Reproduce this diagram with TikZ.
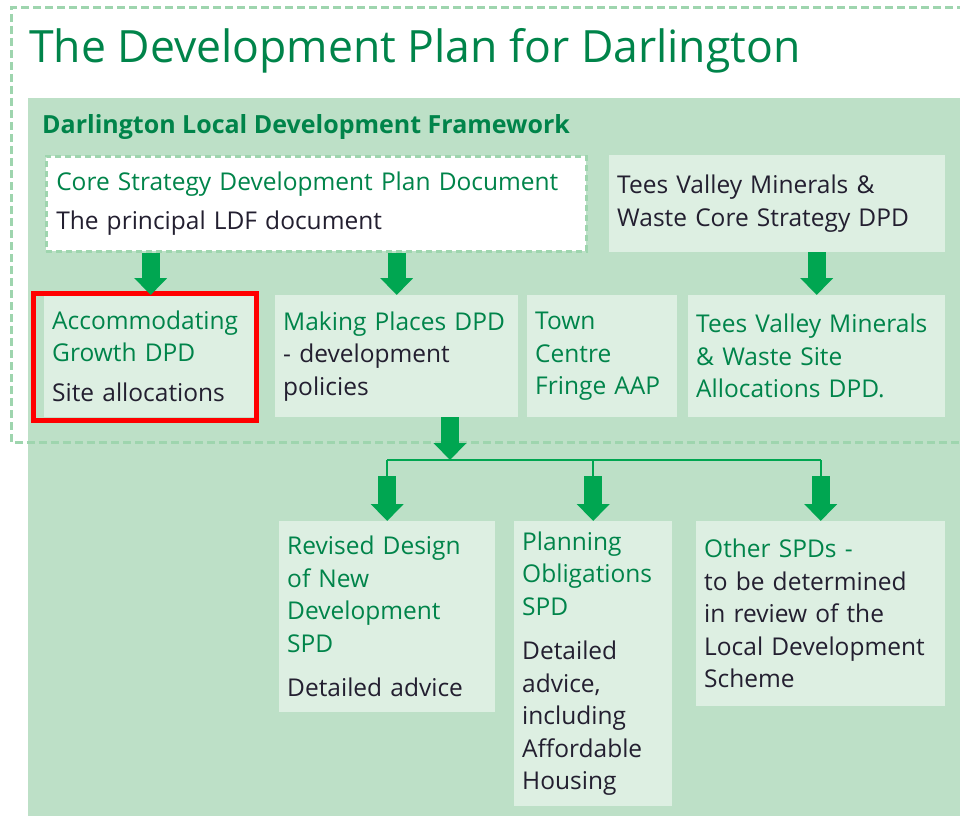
\documentclass[tikz,border=0pt]{standalone}
\usepackage{fontspec}
\setmainfont{Open Sans}
\usepackage{tikz}
\usetikzlibrary{arrows.meta,positioning}

\definecolor{titlegreen}{HTML}{00844A}
\definecolor{panelgreen}{HTML}{BDE0C7}
\definecolor{boxgreen}{HTML}{DDEFE2}
\definecolor{dashgreen}{HTML}{9ED5AE}
\definecolor{arrowgreen}{HTML}{00A651}
\definecolor{darktext}{HTML}{231F30}

\tikzset{
  doc/.style={fill=boxgreen, anchor=north west, align=left, inner xsep=8pt, inner ysep=6pt,
    font=\fontsize{24.5}{32.5}\selectfont, text=darktext},
  bigarrow/.style={line width=18pt, arrowgreen, -{Triangle[width=32pt,length=17pt]}},
  branch/.style={arrowgreen, line width=2pt},
}
\newcommand{\hd}{\color{titlegreen}}
\newcommand{\bd}{\color{darktext}}

\begin{document}
\begin{tikzpicture}[x=1pt,y=-1pt]
        \useasboundingbox (0,0) rectangle (960,816);

        % green panel and dashed frame
        \fill[panelgreen] (28,98) rectangle (960,816);
        \draw[dashgreen, line width=3pt, dash pattern=on 8pt off 4pt] (965,8) -- (11,8) -- (11,442) -- (965,442);

        % titles
        \node[anchor=base west, inner sep=0, text=titlegreen, font=\fontsize{44.5}{44.5}\selectfont] (title) at (29,63) {The Development Plan for Darlington};
        \node[anchor=base west, inner sep=0, text=titlegreen, font=\bfseries\fontsize{25}{25}\selectfont] (ldf) at (42,133) {Darlington Local Development Framework};

        % top row
        \node[doc, fill=white, draw=dashgreen, line width=2.5pt, dash pattern=on 6pt off 4pt, inner xsep=10pt, text width=520pt, minimum height=95pt] (core) at (45,155)
          {\hd Core Strategy Development Plan Document\\[7pt]\bd The principal LDF document};
        \node[doc, text width=320pt, minimum height=97pt] (tees) at (609,155)
          {Tees Valley Minerals \&\\ Waste Core Strategy DPD};

        % middle row
        \node[doc, text width=197pt, minimum height=122pt] (accom) at (44,295)
          {\hd Accommodating\\ Growth DPD\\[7pt]\bd Site allocations};
        \node[doc, text width=227pt, minimum height=122pt] (making) at (275,295)
          {\hd Making Places DPD\\\bd - development\\ policies};
        \node[doc, text width=134pt, minimum height=122pt] (town) at (527,295)
          {\hd Town\\ Centre\\ Fringe AAP};
        \node[doc, text width=241pt, minimum height=122pt] (site) at (688,295)
          {\hd Tees Valley Minerals\\ \& Waste Site\\ Allocations DPD.};

        % bottom row
        \node[doc, text width=200pt, minimum height=191pt] (revised) at (279,521)
          {\hd Revised Design\\ of New\\ Development\\ SPD\\[12pt]\bd Detailed advice};
        \node[doc, text width=142pt, minimum height=285pt] (planning) at (514,521)
          {\hd Planning\\ Obligations\\ SPD\\[12pt]\bd Detailed\\ advice,\\ including\\ Affordable\\ Housing};
        \node[doc, text width=233pt, minimum height=185pt, inner ysep=3pt] (other) at (696,521)
          {\hd Other SPDs -\\\bd to be determined\\ in review of the\\ Local Development\\ Scheme\\[4pt]};

        % highlight
        \draw[red, line width=5pt] ([shift={(-10.5pt,2pt)}]accom.north west) rectangle ([shift={(-1pt,-3pt)}]accom.south east);

        % arrows
        \draw[bigarrow] (core.south -| accom.north) -- (accom.north);
        \draw[bigarrow] (core.south -| making.north) -- (making.north);
        \draw[bigarrow] (tees.south -| site.north) -- (site.north);

        \coordinate (split) at (450,460);
        \coordinate (stem) at (450,476);
        \draw[bigarrow] (making.south -| split) -- (split);
        \draw[branch] (split -| revised.north) -- (split -| other.north);
        \foreach \n in {revised, planning, other}
        {
        \draw[branch] (split -| \n.north) -- (stem -| \n.north);
        \draw[bigarrow] (stem -| \n.north) -- (\n.north);
        }

\end{tikzpicture}
\end{document}
